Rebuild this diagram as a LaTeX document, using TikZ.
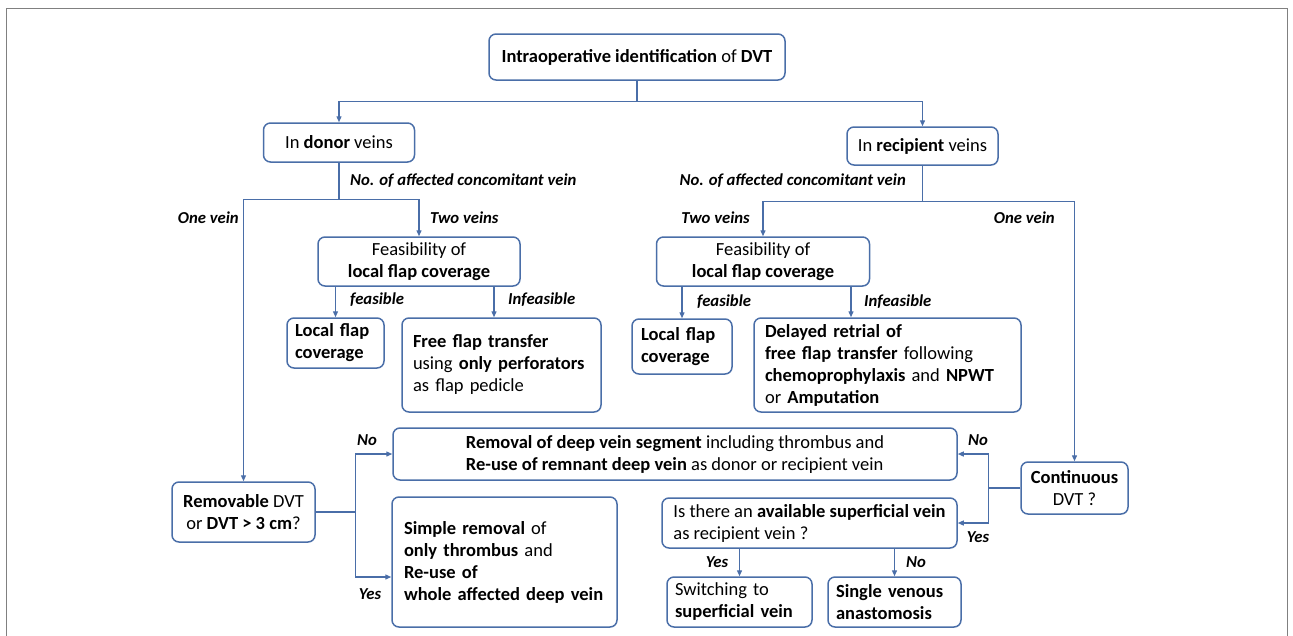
\documentclass[tikz,border=0pt]{standalone}
\usepackage{fontspec}
\setmainfont{Carlito}
\usetikzlibrary{arrows.meta}
\definecolor{bl}{RGB}{74,110,168}
\definecolor{framegray}{RGB}{128,128,128}
\newcommand\bodyfs{\fontsize{18.5}{22}\selectfont}
\newcommand\labfs{\fontsize{16.7}{19}\selectfont\bfseries\itshape}
\begin{document}
\begin{tikzpicture}[x=1pt,y=-1pt,
  box/.style={draw=bl, line width=1.5pt, rounded corners=7pt, inner sep=0pt, font=\bodyfs, text=black},
  conn/.style={draw=bl, line width=1.3pt},
  arr/.style={conn, -{Triangle[length=6pt,width=5pt]}},
  lab/.style={font=\labfs, inner sep=0pt, text=black}]
\useasboundingbox (0,0) rectangle (1293,635);
\draw[framegray, line width=1pt] (6.5,8) rectangle (1287.5,645);

% boxes
\node[box, minimum width=296, minimum height=46] (top) at (637,57) {\textbf{Intraoperative identification} of \textbf{DVT}};
\node[box, minimum width=151, minimum height=39] (donor) at (339,142.5) {In \textbf{donor} veins};
\node[box, minimum width=151, minimum height=38] (recip) at (922.5,146) {In \textbf{recipient} veins};
\node[box, minimum width=202, minimum height=49, align=center] (feasD) at (419,261.5) {Feasibility of\\ \textbf{local flap coverage}};
\node[box, minimum width=213, minimum height=49, align=center] (feasR) at (763,261.5) {Feasibility of\\ \textbf{local flap coverage}};
\node[box, minimum width=97, minimum height=50, text width=81, align=left] (localD) at (335.5,343) {\textbf{Local flap}\\ \textbf{coverage}};
\node[box, minimum width=199, minimum height=94, text width=177, align=left] (freeD) at (501.5,365) {\textbf{Free flap transfer}\\ using \textbf{only perforators}\\ as flap pedicle};
\node[box, minimum width=100, minimum height=55, text width=82, align=left] (localR) at (682,346.5) {\textbf{Local flap}\\ \textbf{coverage}};
\node[box, minimum width=267, minimum height=94, text width=245, align=left] (delayed) at (887.5,365) {\textbf{Delayed retrial of}\\ \textbf{free flap transfer} following\\ \textbf{chemoprophylaxis} and \textbf{NPWT}\\ or \textbf{Amputation}};
\node[box, minimum width=564, minimum height=52, align=left] (removal) at (675,454) {\textbf{Removal of deep vein segment} including thrombus and\\ \textbf{Re-use of remnant deep vein} as donor or recipient vein};
\node[box, minimum width=143, minimum height=60, align=center] (removable) at (243.5,512) {\textbf{Removable} DVT\\ or \textbf{DVT > 3 cm}?};
\node[box, minimum width=225, minimum height=130, text width=201, align=left] (simple) at (504.5,562) {\textbf{Simple removal} of\\ \textbf{only thrombus} and\\ \textbf{Re-use of}\\ \textbf{whole affected deep vein}};
\node[box, minimum width=107, minimum height=52, align=center] (cont) at (1074.5,488) {\textbf{Continuous}\\ DVT ?};
\node[box, minimum width=295, minimum height=50, align=left] (avail) at (809.5,523) {Is there an \textbf{available superficial vein}\\ as recipient vein ?};
\node[box, minimum width=145, minimum height=50, text width=129, align=left] (switchbox) at (739.5,602) {Switching to\\ \textbf{superficial vein}};
\node[box, minimum width=133, minimum height=50, text width=117, align=left] (single) at (894.5,602) {\textbf{Single venous}\\ \textbf{anastomosis}};

% connectors
\draw[conn] (top.south) -- ++(0,21) coordinate (tj);
\draw[arr] (tj) -| (donor.north);
\draw[arr] (tj) -| (recip.north);
\draw[conn] (donor.south) -- ++(0,37) coordinate (dj);
\draw[arr] (dj) -| (removable.north);
\draw[arr] (dj) -| (feasD.north);
\draw[conn] (recip.south) -- ++(0,36) coordinate (rj);
\draw[arr] (rj) -| (feasR.north);
\draw[arr] (rj) -| (cont.north);
\draw[arr] (localD.north |- feasD.south) -- (localD.north);
\draw[arr] ([xshift=-7.5pt]freeD.north |- feasD.south) -- ([xshift=-7.5pt]freeD.north);
\draw[arr] (localR.north |- feasR.south) -- (localR.north);
\draw[arr] ([xshift=-36.5pt]delayed.north |- feasR.south) -- ([xshift=-36.5pt]delayed.north);
\draw[conn] (removable.east) -- ++(39.5,0) coordinate (mj);
\draw[arr] (mj) |- (removal.west);
\draw[arr] (mj) |- ([yshift=-15pt]simple.west);
\draw[conn] (cont.west) -- ++(-32,0) coordinate (cj);
\draw[arr] (cj) |- (removal.east);
\draw[arr] (cj) |- (avail.east);
\draw[arr] (switchbox.north |- avail.south) -- (switchbox.north);
\draw[arr] (single.north |- avail.south) -- (single.north);

% labels
\node[lab, anchor=west] (l1) at (350,181) {No. of affected concomitant vein};
\node[lab, anchor=east] (l2) at (906,181) {No. of affected concomitant vein};
\node[lab, anchor=east] (l3) at (239,218) {One vein};
\node[lab, anchor=west] (l4) at (430,218) {Two veins};
\node[lab, anchor=east] (l5) at (750,218) {Two veins};
\node[lab, anchor=east] (l6) at (1055,218) {One vein};
\node[lab, anchor=west] (l7) at (350,300) {feasible};
\node[lab, anchor=west] (l8) at (508,300) {Infeasible};
\node[lab, anchor=west] (l9) at (697,302) {feasible};
\node[lab, anchor=west] (l10) at (864,302) {Infeasible};
\node[lab] (l11) at (367,440) {No};
\node[lab] (l12) at (370,594) {Yes};
\node[lab] (l13) at (978,440) {No};
\node[lab] (l14) at (978,537) {Yes};
\node[lab] (l15) at (717,562) {Yes};
\node[lab] (l16) at (916,562) {No};
\end{tikzpicture}
\end{document}
